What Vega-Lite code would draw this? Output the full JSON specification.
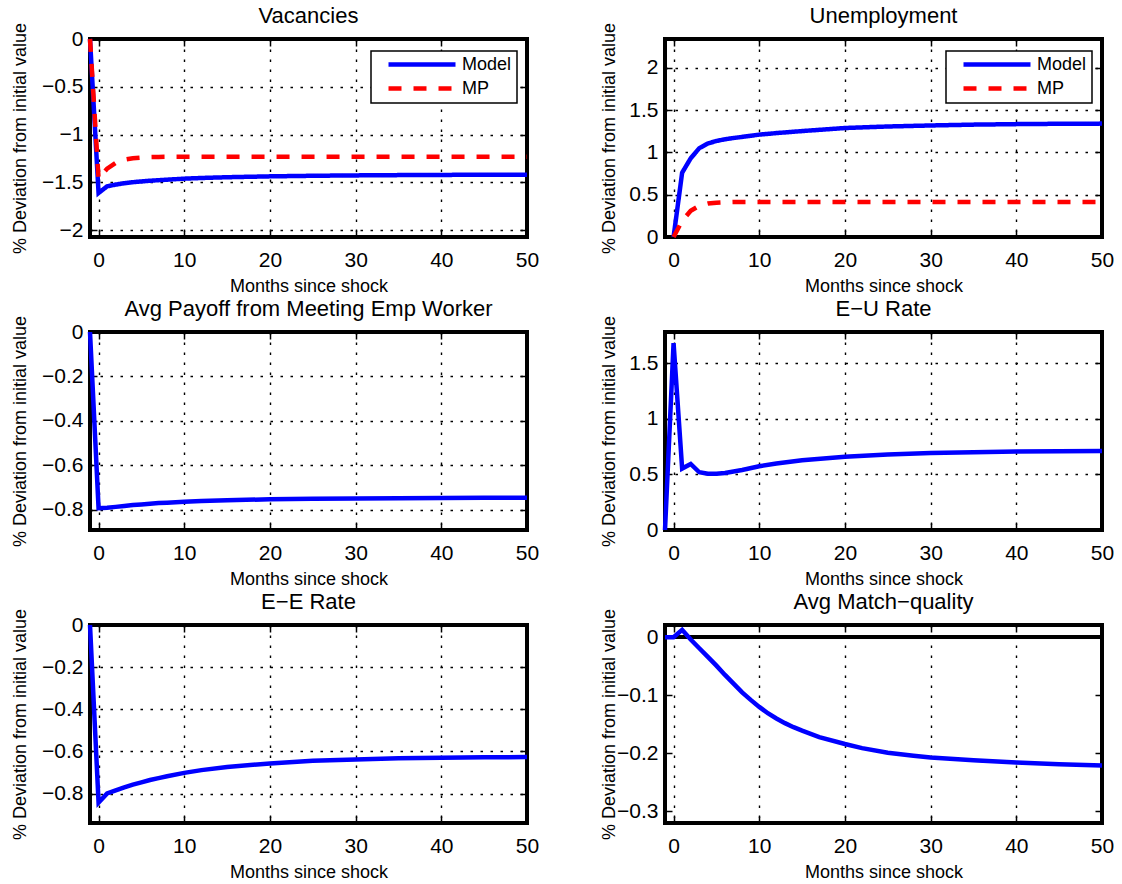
{
  "$schema": "https://vega.github.io/schema/vega-lite/v6.json",
  "padding": {"left": 8, "top": 3, "right": 5, "bottom": 5},
  "background": "white",
  "config": {
    "font": "Liberation Sans",
    "view": {"stroke": "black", "strokeWidth": 4},
    "axis": {
      "grid": true, "gridColor": "black", "gridDash": [2.5, 7.5], "gridWidth": 1.4, "gridOpacity": 1,
      "domain": false, "ticks": true, "tickSize": -7, "tickWidth": 1.5, "tickColor": "black",
      "labelFont": "Liberation Sans", "labelFontSize": 21, "labelColor": "black", "labelFlush": false, "labelOverlap": false,
      "titleFont": "Liberation Sans", "titleFontSize": 18, "titleFontWeight": "normal", "titleColor": "black"
    },
    "axisX": {"labelBaseline": "alphabetic", "labelPadding": 36, "titleBaseline": "alphabetic", "titleY": 54},
    "axisY": {"labelPadding": 14, "titleBaseline": "alphabetic"},
    "title": {"font": "Liberation Sans", "fontSize": 22, "fontWeight": "normal", "color": "black", "baseline": "alphabetic", "offset": -6, "frame": "group"},
    "legend": {
      "orient": "none", "legendX": 281, "legendY": 12,
      "strokeColor": "black", "strokeWidth": 1.5, "fillColor": "white", "padding": 5,
      "symbolType": "stroke", "symbolSize": 4489, "symbolStrokeWidth": 4.5, "clipHeight": 17, "rowPadding": 5,
      "labelOffset": 4, "symbolOffset": 10, "labelFont": "Liberation Sans", "labelFontSize": 18, "labelColor": "black"
    }
  },
  "datasets": {
    "irf": [
      {"panel":"vac","series":"Model","month":-1,"value":0},
      {"panel":"vac","series":"Model","month":0,"value":-1.61},
      {"panel":"vac","series":"Model","month":1,"value":-1.54},
      {"panel":"vac","series":"Model","month":2,"value":-1.522},
      {"panel":"vac","series":"Model","month":3,"value":-1.508},
      {"panel":"vac","series":"Model","month":4,"value":-1.497},
      {"panel":"vac","series":"Model","month":5,"value":-1.489},
      {"panel":"vac","series":"Model","month":6,"value":-1.482},
      {"panel":"vac","series":"Model","month":7,"value":-1.476},
      {"panel":"vac","series":"Model","month":8,"value":-1.471},
      {"panel":"vac","series":"Model","month":10,"value":-1.46},
      {"panel":"vac","series":"Model","month":12,"value":-1.453},
      {"panel":"vac","series":"Model","month":15,"value":-1.445},
      {"panel":"vac","series":"Model","month":20,"value":-1.436},
      {"panel":"vac","series":"Model","month":25,"value":-1.43},
      {"panel":"vac","series":"Model","month":30,"value":-1.426},
      {"panel":"vac","series":"Model","month":35,"value":-1.423},
      {"panel":"vac","series":"Model","month":40,"value":-1.421},
      {"panel":"vac","series":"Model","month":45,"value":-1.419},
      {"panel":"vac","series":"Model","month":50,"value":-1.418},
      {"panel":"vac","series":"MP","month":-1,"value":0},
      {"panel":"vac","series":"MP","month":0,"value":-1.46},
      {"panel":"vac","series":"MP","month":1,"value":-1.355},
      {"panel":"vac","series":"MP","month":2,"value":-1.295},
      {"panel":"vac","series":"MP","month":3,"value":-1.262},
      {"panel":"vac","series":"MP","month":4,"value":-1.246},
      {"panel":"vac","series":"MP","month":5,"value":-1.239},
      {"panel":"vac","series":"MP","month":6,"value":-1.235},
      {"panel":"vac","series":"MP","month":7,"value":-1.233},
      {"panel":"vac","series":"MP","month":8,"value":-1.232},
      {"panel":"vac","series":"MP","month":10,"value":-1.232},
      {"panel":"vac","series":"MP","month":20,"value":-1.232},
      {"panel":"vac","series":"MP","month":30,"value":-1.232},
      {"panel":"vac","series":"MP","month":40,"value":-1.232},
      {"panel":"vac","series":"MP","month":50,"value":-1.232},
      {"panel":"unemp","series":"Model","month":0,"value":0},
      {"panel":"unemp","series":"Model","month":1,"value":0.76},
      {"panel":"unemp","series":"Model","month":2,"value":0.93},
      {"panel":"unemp","series":"Model","month":3,"value":1.05},
      {"panel":"unemp","series":"Model","month":4,"value":1.105},
      {"panel":"unemp","series":"Model","month":5,"value":1.135},
      {"panel":"unemp","series":"Model","month":6,"value":1.155},
      {"panel":"unemp","series":"Model","month":7,"value":1.17},
      {"panel":"unemp","series":"Model","month":8,"value":1.183},
      {"panel":"unemp","series":"Model","month":10,"value":1.21},
      {"panel":"unemp","series":"Model","month":12,"value":1.228},
      {"panel":"unemp","series":"Model","month":15,"value":1.252},
      {"panel":"unemp","series":"Model","month":20,"value":1.288},
      {"panel":"unemp","series":"Model","month":25,"value":1.306},
      {"panel":"unemp","series":"Model","month":30,"value":1.318},
      {"panel":"unemp","series":"Model","month":35,"value":1.328},
      {"panel":"unemp","series":"Model","month":40,"value":1.334},
      {"panel":"unemp","series":"Model","month":45,"value":1.338},
      {"panel":"unemp","series":"Model","month":50,"value":1.34},
      {"panel":"unemp","series":"MP","month":0,"value":0},
      {"panel":"unemp","series":"MP","month":1,"value":0.19},
      {"panel":"unemp","series":"MP","month":2,"value":0.31},
      {"panel":"unemp","series":"MP","month":3,"value":0.37},
      {"panel":"unemp","series":"MP","month":4,"value":0.395},
      {"panel":"unemp","series":"MP","month":5,"value":0.405},
      {"panel":"unemp","series":"MP","month":6,"value":0.41},
      {"panel":"unemp","series":"MP","month":7,"value":0.413},
      {"panel":"unemp","series":"MP","month":8,"value":0.415},
      {"panel":"unemp","series":"MP","month":10,"value":0.415},
      {"panel":"unemp","series":"MP","month":20,"value":0.415},
      {"panel":"unemp","series":"MP","month":30,"value":0.415},
      {"panel":"unemp","series":"MP","month":40,"value":0.415},
      {"panel":"unemp","series":"MP","month":50,"value":0.415},
      {"panel":"payoff","series":"Model","month":-1,"value":0},
      {"panel":"payoff","series":"Model","month":0,"value":-0.792},
      {"panel":"payoff","series":"Model","month":1,"value":-0.79},
      {"panel":"payoff","series":"Model","month":2,"value":-0.786},
      {"panel":"payoff","series":"Model","month":3,"value":-0.782},
      {"panel":"payoff","series":"Model","month":4,"value":-0.778},
      {"panel":"payoff","series":"Model","month":5,"value":-0.775},
      {"panel":"payoff","series":"Model","month":6,"value":-0.772},
      {"panel":"payoff","series":"Model","month":7,"value":-0.769},
      {"panel":"payoff","series":"Model","month":8,"value":-0.767},
      {"panel":"payoff","series":"Model","month":10,"value":-0.763},
      {"panel":"payoff","series":"Model","month":12,"value":-0.76},
      {"panel":"payoff","series":"Model","month":15,"value":-0.756},
      {"panel":"payoff","series":"Model","month":20,"value":-0.752},
      {"panel":"payoff","series":"Model","month":25,"value":-0.75},
      {"panel":"payoff","series":"Model","month":30,"value":-0.748},
      {"panel":"payoff","series":"Model","month":35,"value":-0.747},
      {"panel":"payoff","series":"Model","month":40,"value":-0.746},
      {"panel":"payoff","series":"Model","month":45,"value":-0.745},
      {"panel":"payoff","series":"Model","month":50,"value":-0.745},
      {"panel":"eu","series":"Model","month":-1,"value":0},
      {"panel":"eu","series":"Model","month":0,"value":1.68},
      {"panel":"eu","series":"Model","month":1,"value":0.552},
      {"panel":"eu","series":"Model","month":2,"value":0.594},
      {"panel":"eu","series":"Model","month":3,"value":0.519},
      {"panel":"eu","series":"Model","month":4,"value":0.505},
      {"panel":"eu","series":"Model","month":5,"value":0.505},
      {"panel":"eu","series":"Model","month":6,"value":0.513},
      {"panel":"eu","series":"Model","month":7,"value":0.526},
      {"panel":"eu","series":"Model","month":8,"value":0.54},
      {"panel":"eu","series":"Model","month":10,"value":0.573},
      {"panel":"eu","series":"Model","month":12,"value":0.598},
      {"panel":"eu","series":"Model","month":15,"value":0.627},
      {"panel":"eu","series":"Model","month":20,"value":0.658},
      {"panel":"eu","series":"Model","month":25,"value":0.678},
      {"panel":"eu","series":"Model","month":30,"value":0.692},
      {"panel":"eu","series":"Model","month":35,"value":0.7},
      {"panel":"eu","series":"Model","month":40,"value":0.705},
      {"panel":"eu","series":"Model","month":45,"value":0.709},
      {"panel":"eu","series":"Model","month":50,"value":0.711},
      {"panel":"ee","series":"Model","month":-1,"value":0},
      {"panel":"ee","series":"Model","month":0,"value":-0.843},
      {"panel":"ee","series":"Model","month":1,"value":-0.8},
      {"panel":"ee","series":"Model","month":2,"value":-0.785},
      {"panel":"ee","series":"Model","month":3,"value":-0.771},
      {"panel":"ee","series":"Model","month":4,"value":-0.758},
      {"panel":"ee","series":"Model","month":5,"value":-0.747},
      {"panel":"ee","series":"Model","month":6,"value":-0.736},
      {"panel":"ee","series":"Model","month":7,"value":-0.727},
      {"panel":"ee","series":"Model","month":8,"value":-0.718},
      {"panel":"ee","series":"Model","month":10,"value":-0.702},
      {"panel":"ee","series":"Model","month":12,"value":-0.689},
      {"panel":"ee","series":"Model","month":15,"value":-0.674},
      {"panel":"ee","series":"Model","month":20,"value":-0.657},
      {"panel":"ee","series":"Model","month":25,"value":-0.645},
      {"panel":"ee","series":"Model","month":30,"value":-0.638},
      {"panel":"ee","series":"Model","month":35,"value":-0.633},
      {"panel":"ee","series":"Model","month":40,"value":-0.63},
      {"panel":"ee","series":"Model","month":45,"value":-0.628},
      {"panel":"ee","series":"Model","month":50,"value":-0.627},
      {"panel":"mq","series":"Model","month":-1,"value":0},
      {"panel":"mq","series":"Model","month":0,"value":0},
      {"panel":"mq","series":"Model","month":1,"value":0.0126},
      {"panel":"mq","series":"Model","month":2,"value":-0.004},
      {"panel":"mq","series":"Model","month":3,"value":-0.019},
      {"panel":"mq","series":"Model","month":4,"value":-0.034},
      {"panel":"mq","series":"Model","month":5,"value":-0.049},
      {"panel":"mq","series":"Model","month":6,"value":-0.065},
      {"panel":"mq","series":"Model","month":7,"value":-0.08},
      {"panel":"mq","series":"Model","month":8,"value":-0.095},
      {"panel":"mq","series":"Model","month":9,"value":-0.108},
      {"panel":"mq","series":"Model","month":10,"value":-0.12},
      {"panel":"mq","series":"Model","month":11,"value":-0.131},
      {"panel":"mq","series":"Model","month":12,"value":-0.14},
      {"panel":"mq","series":"Model","month":13,"value":-0.148},
      {"panel":"mq","series":"Model","month":14,"value":-0.155},
      {"panel":"mq","series":"Model","month":15,"value":-0.161},
      {"panel":"mq","series":"Model","month":17,"value":-0.172},
      {"panel":"mq","series":"Model","month":20,"value":-0.184},
      {"panel":"mq","series":"Model","month":22,"value":-0.191},
      {"panel":"mq","series":"Model","month":25,"value":-0.199},
      {"panel":"mq","series":"Model","month":28,"value":-0.204},
      {"panel":"mq","series":"Model","month":30,"value":-0.207},
      {"panel":"mq","series":"Model","month":35,"value":-0.212},
      {"panel":"mq","series":"Model","month":40,"value":-0.216},
      {"panel":"mq","series":"Model","month":45,"value":-0.219},
      {"panel":"mq","series":"Model","month":50,"value":-0.221}
    ]
  },
  "data": {"name": "irf"},
  "columns": 2,
  "bounds": "flush",
  "spacing": {"row": 95, "column": 138},
  "resolve": {
    "scale": {"x": "independent", "y": "independent", "color": "independent", "strokeDash": "independent"},
    "legend": {"color": "independent", "strokeDash": "independent"}
  },
  "concat": [
    {
      "title": "Vacancies",
      "width": 437, "height": 198,
      "transform": [{"filter": "datum.panel === 'vac'"}],
      "resolve": {"axis": {"x": "independent", "y": "independent"}},
      "layer": [
        {
          "mark": {"type": "line", "strokeWidth": 4.5},
          "encoding": {
            "x": {"field": "month", "type": "quantitative", "scale": {"domain": [-1, 50], "nice": false, "zero": false}, "axis": {"values": [0, 10, 20, 30, 40, 50], "title": "Months since shock"}},
            "y": {"field": "value", "type": "quantitative", "scale": {"domain": [-2.07, 0], "nice": false, "zero": false}, "axis": {"values": [-2, -1.5, -1, -0.5, 0], "format": "~g", "title": "% Deviation from initial value", "titleX": -65}},
            "color": {"field": "series", "type": "nominal", "scale": {"domain": ["Model", "MP"], "range": ["#0000ff", "#ff0000"]}, "legend": {"title": null}},
            "strokeDash": {"field": "series", "type": "nominal", "scale": {"domain": ["Model", "MP"], "range": [[1, 0], [13, 12]]}, "legend": {"title": null}}
          }
        },
        {
          "mark": {"type": "point", "opacity": 0},
          "encoding": {
            "x": {"field": "month", "type": "quantitative", "scale": {"domain": [-1, 50], "nice": false, "zero": false}, "axis": {"orient": "top", "values": [0, 10, 20, 30, 40, 50], "labels": false, "grid": false, "title": null}},
            "y": {"field": "value", "type": "quantitative", "scale": {"domain": [-2.07, 0], "nice": false, "zero": false}, "axis": {"orient": "right", "values": [-2, -1.5, -1, -0.5, 0], "labels": false, "grid": false, "title": null}}
          }
        }
      ]
    },
    {
      "title": "Unemployment",
      "width": 437, "height": 198,
      "transform": [{"filter": "datum.panel === 'unemp'"}],
      "resolve": {"axis": {"x": "independent", "y": "independent"}},
      "layer": [
        {
          "mark": {"type": "line", "strokeWidth": 4.5},
          "encoding": {
            "x": {"field": "month", "type": "quantitative", "scale": {"domain": [-1, 50], "nice": false, "zero": false}, "axis": {"values": [0, 10, 20, 30, 40, 50], "title": "Months since shock"}},
            "y": {"field": "value", "type": "quantitative", "scale": {"domain": [0, 2.34], "nice": false, "zero": false}, "axis": {"values": [0, 0.5, 1, 1.5, 2], "format": "~g", "title": "% Deviation from initial value", "titleX": -51}},
            "color": {"field": "series", "type": "nominal", "scale": {"domain": ["Model", "MP"], "range": ["#0000ff", "#ff0000"]}, "legend": {"title": null}},
            "strokeDash": {"field": "series", "type": "nominal", "scale": {"domain": ["Model", "MP"], "range": [[1, 0], [13, 12]]}, "legend": {"title": null}}
          }
        },
        {
          "mark": {"type": "point", "opacity": 0},
          "encoding": {
            "x": {"field": "month", "type": "quantitative", "scale": {"domain": [-1, 50], "nice": false, "zero": false}, "axis": {"orient": "top", "values": [0, 10, 20, 30, 40, 50], "labels": false, "grid": false, "title": null}},
            "y": {"field": "value", "type": "quantitative", "scale": {"domain": [0, 2.34], "nice": false, "zero": false}, "axis": {"orient": "right", "values": [0, 0.5, 1, 1.5, 2], "labels": false, "grid": false, "title": null}}
          }
        }
      ]
    },
    {
      "title": "Avg Payoff from Meeting Emp Worker",
      "width": 437, "height": 198,
      "transform": [{"filter": "datum.panel === 'payoff'"}],
      "resolve": {"axis": {"x": "independent", "y": "independent"}},
      "layer": [
        {
          "mark": {"type": "line", "strokeWidth": 4.5, "color": "#0000ff"},
          "encoding": {
            "x": {"field": "month", "type": "quantitative", "scale": {"domain": [-1, 50], "nice": false, "zero": false}, "axis": {"values": [0, 10, 20, 30, 40, 50], "title": "Months since shock"}},
            "y": {"field": "value", "type": "quantitative", "scale": {"domain": [-0.89, 0], "nice": false, "zero": false}, "axis": {"values": [-0.8, -0.6, -0.4, -0.2, 0], "format": "~g", "title": "% Deviation from initial value", "titleX": -65}}
          }
        },
        {
          "mark": {"type": "point", "opacity": 0},
          "encoding": {
            "x": {"field": "month", "type": "quantitative", "scale": {"domain": [-1, 50], "nice": false, "zero": false}, "axis": {"orient": "top", "values": [0, 10, 20, 30, 40, 50], "labels": false, "grid": false, "title": null}},
            "y": {"field": "value", "type": "quantitative", "scale": {"domain": [-0.89, 0], "nice": false, "zero": false}, "axis": {"orient": "right", "values": [-0.8, -0.6, -0.4, -0.2, 0], "labels": false, "grid": false, "title": null}}
          }
        }
      ]
    },
    {
      "title": "E−U Rate",
      "width": 437, "height": 198,
      "transform": [{"filter": "datum.panel === 'eu'"}],
      "resolve": {"axis": {"x": "independent", "y": "independent"}},
      "layer": [
        {
          "mark": {"type": "line", "strokeWidth": 4.5, "color": "#0000ff"},
          "encoding": {
            "x": {"field": "month", "type": "quantitative", "scale": {"domain": [-1, 50], "nice": false, "zero": false}, "axis": {"values": [0, 10, 20, 30, 40, 50], "title": "Months since shock"}},
            "y": {"field": "value", "type": "quantitative", "scale": {"domain": [0, 1.78], "nice": false, "zero": false}, "axis": {"values": [0, 0.5, 1, 1.5], "format": "~g", "title": "% Deviation from initial value", "titleX": -51}}
          }
        },
        {
          "mark": {"type": "point", "opacity": 0},
          "encoding": {
            "x": {"field": "month", "type": "quantitative", "scale": {"domain": [-1, 50], "nice": false, "zero": false}, "axis": {"orient": "top", "values": [0, 10, 20, 30, 40, 50], "labels": false, "grid": false, "title": null}},
            "y": {"field": "value", "type": "quantitative", "scale": {"domain": [0, 1.78], "nice": false, "zero": false}, "axis": {"orient": "right", "values": [0, 0.5, 1, 1.5], "labels": false, "grid": false, "title": null}}
          }
        }
      ]
    },
    {
      "title": "E−E Rate",
      "width": 437, "height": 198,
      "transform": [{"filter": "datum.panel === 'ee'"}],
      "resolve": {"axis": {"x": "independent", "y": "independent"}},
      "layer": [
        {
          "mark": {"type": "line", "strokeWidth": 4.5, "color": "#0000ff"},
          "encoding": {
            "x": {"field": "month", "type": "quantitative", "scale": {"domain": [-1, 50], "nice": false, "zero": false}, "axis": {"values": [0, 10, 20, 30, 40, 50], "title": "Months since shock"}},
            "y": {"field": "value", "type": "quantitative", "scale": {"domain": [-0.94, 0], "nice": false, "zero": false}, "axis": {"values": [-0.8, -0.6, -0.4, -0.2, 0], "format": "~g", "title": "% Deviation from initial value", "titleX": -65}}
          }
        },
        {
          "mark": {"type": "point", "opacity": 0},
          "encoding": {
            "x": {"field": "month", "type": "quantitative", "scale": {"domain": [-1, 50], "nice": false, "zero": false}, "axis": {"orient": "top", "values": [0, 10, 20, 30, 40, 50], "labels": false, "grid": false, "title": null}},
            "y": {"field": "value", "type": "quantitative", "scale": {"domain": [-0.94, 0], "nice": false, "zero": false}, "axis": {"orient": "right", "values": [-0.8, -0.6, -0.4, -0.2, 0], "labels": false, "grid": false, "title": null}}
          }
        }
      ]
    },
    {
      "title": "Avg Match−quality",
      "width": 437, "height": 198,
      "transform": [{"filter": "datum.panel === 'mq'"}],
      "resolve": {"axis": {"x": "independent", "y": "independent"}},
      "layer": [
        {
          "mark": {"type": "rule", "color": "black", "strokeWidth": 3.5},
          "encoding": {"y": {"datum": 0, "type": "quantitative", "axis": null}}
        },
        {
          "mark": {"type": "line", "strokeWidth": 4.5, "color": "#0000ff"},
          "encoding": {
            "x": {"field": "month", "type": "quantitative", "scale": {"domain": [-1, 50], "nice": false, "zero": false}, "axis": {"values": [0, 10, 20, 30, 40, 50], "title": "Months since shock"}},
            "y": {"field": "value", "type": "quantitative", "scale": {"domain": [-0.32, 0.021], "nice": false, "zero": false}, "axis": {"orient": "left", "values": [-0.3, -0.2, -0.1, 0], "format": "~g", "title": "% Deviation from initial value", "titleX": -51}}
          }
        },
        {
          "mark": {"type": "point", "opacity": 0},
          "encoding": {
            "x": {"field": "month", "type": "quantitative", "scale": {"domain": [-1, 50], "nice": false, "zero": false}, "axis": {"orient": "top", "values": [0, 10, 20, 30, 40, 50], "labels": false, "grid": false, "title": null}},
            "y": {"field": "value", "type": "quantitative", "scale": {"domain": [-0.32, 0.021], "nice": false, "zero": false}, "axis": {"orient": "right", "values": [-0.3, -0.2, -0.1, 0], "labels": false, "grid": false, "title": null}}
          }
        }
      ]
    }
  ]
}
